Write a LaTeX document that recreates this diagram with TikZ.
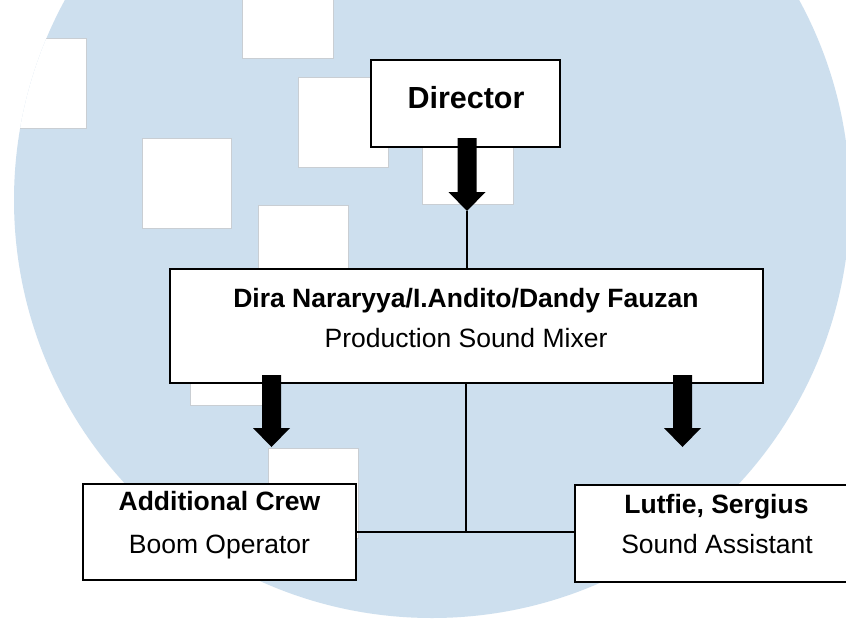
\documentclass[tikz,border=0pt]{standalone}
\usepackage{fontspec}
\setmainfont{Liberation Sans}
\definecolor{bgblue}{HTML}{CDDFEE}
\definecolor{sqedge}{HTML}{C9CED3}
\newcommand\blockarrow[3]{%
  \fill[black] (#1-9.5,#2) -- (#1+9.5,#2) -- (#1+9.5,#3-19) -- (#1+18.5,#3-19)
    -- (#1,#3) -- (#1-18.5,#3-19) -- (#1-9.5,#3-19) -- cycle;}
\begin{document}
\begin{tikzpicture}[x=1pt,y=-1pt,
  box/.style={draw=black,fill=white,line width=2.2pt,inner sep=0pt},
  sq/.style={draw=sqedge,fill=white,line width=1pt},
  conn/.style={draw=black,line width=2pt},
  tbb/.style={anchor=base,inner sep=0pt,font=\bfseries\fontsize{26.5}{30}\selectfont},
  trb/.style={anchor=base,inner sep=0pt,font=\fontsize{26.5}{30}\selectfont}]
\useasboundingbox (0,0) rectangle (846,619);
\fill[white] (0,0) rectangle (846,619);
% watermark circle with white squares
\fill[bgblue] (432,200) circle[radius=418];
\begin{scope}
  \clip (432,200) circle[radius=418];
  \draw[sq] (-4,38) rectangle (86,128);
  \draw[sq] (242,-32) rectangle (333,58);
  \draw[sq] (298,77) rectangle (388,167);
  \draw[sq] (142,138) rectangle (231,228);
  \draw[sq] (258,205) rectangle (348,295);
  \draw[sq] (422,114) rectangle (513,204);
  \draw[sq] (190,315) rectangle (280,405);
  \draw[sq] (268,448) rectangle (358,538);
\end{scope}
% boxes
\node[box,minimum width=189pt,minimum height=87pt] (dir) at (465.5,103.5) {};
\node[box,minimum width=593pt,minimum height=114pt] (mid) at (466.5,326) {};
\node[box,minimum width=273pt,minimum height=96pt] (lb) at (219.5,532) {};
\node[box,minimum width=283pt,minimum height=97pt] (rb) at (716.5,533.5) {};
% texts
\node[anchor=base,inner sep=0pt,font=\bfseries\fontsize{30.5}{36}\selectfont] (dirt) at (466,108.5) {Director};
\node[tbb] (midt1) at (466,307) {Dira Nararyya/I.Andito/Dandy Fauzan};
\node[trb] (midt2) at (466,347) {Production Sound Mixer};
\node[tbb] (lbt1) at (219.5,510) {Additional Crew};
\node[trb] (lbt2) at (219.5,553) {Boom Operator};
\node[tbb] (rbt1) at (716.5,513) {Lutfie, Sergius};
\node[trb] (rbt2) at (717,553) {Sound Assistant};
% block arrows
\blockarrow{467}{138}{211}
\blockarrow{271.5}{375}{447}
\blockarrow{682.5}{375}{447}
% connectors
\coordinate (t1) at (467,211);
\coordinate (j) at (466,532);
\draw[conn] (t1) -- (t1 |- mid.north);
\draw[conn] (j |- mid.south) -- (j);
\draw[conn] (lb.east |- j) -- (rb.west |- j);
\end{tikzpicture}
\end{document}
